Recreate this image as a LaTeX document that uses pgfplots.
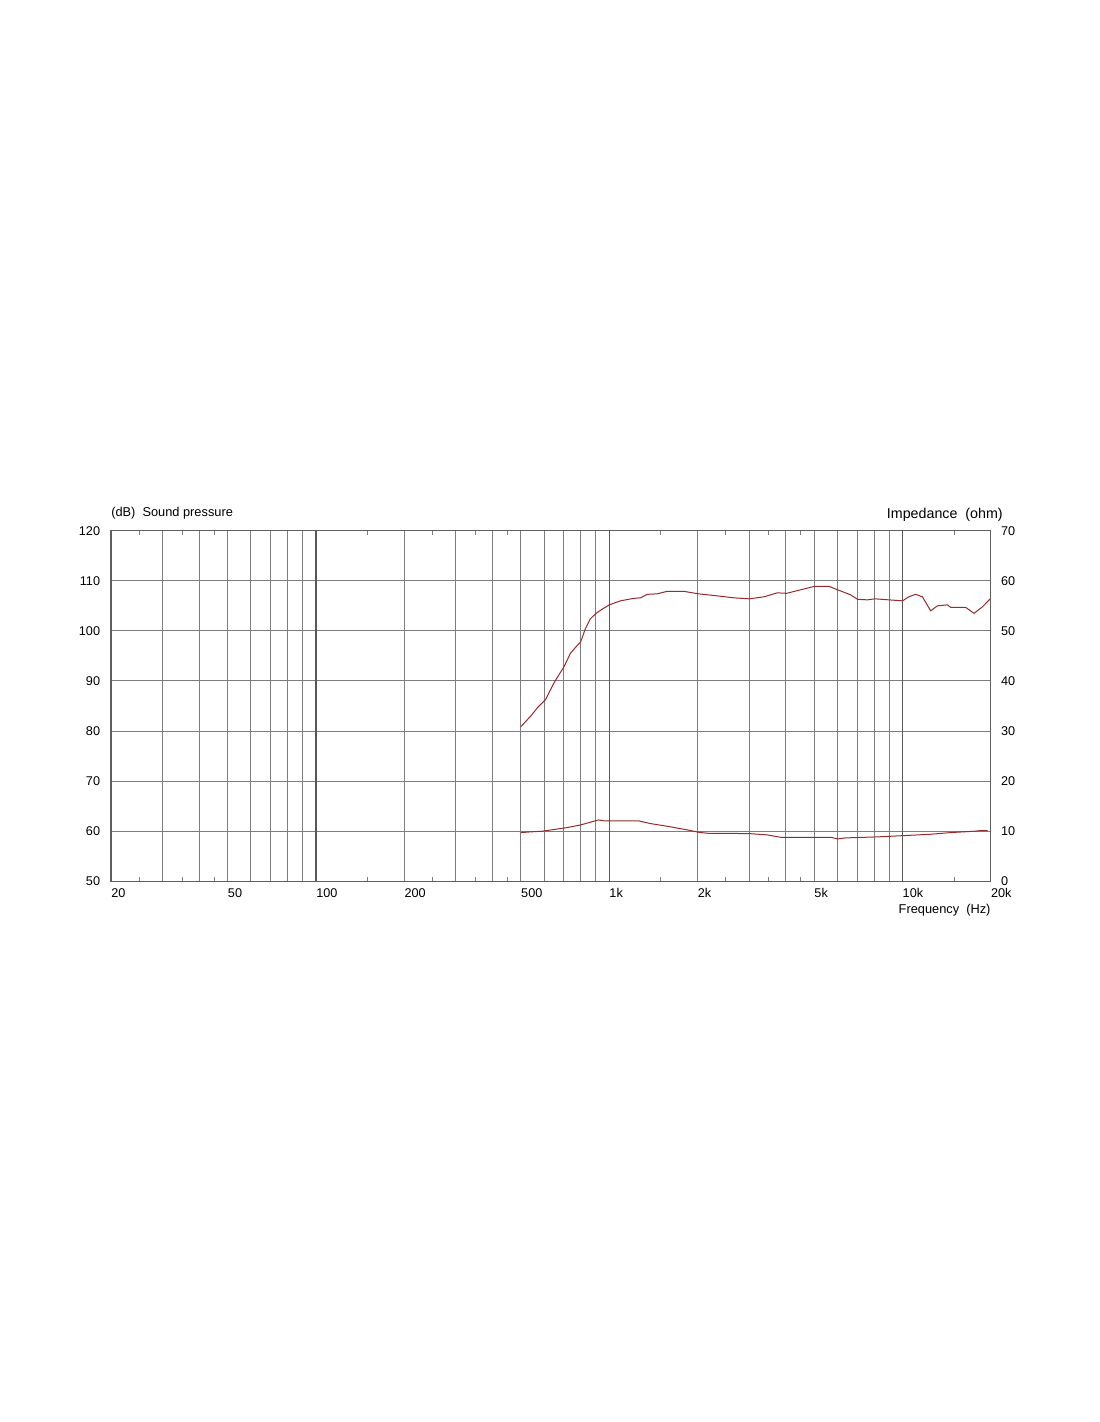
\documentclass[border=0pt]{standalone}
\usepackage{pgfplots}
\pgfplotsset{compat=1.18}
\usepackage{pgfplotstable}
\usepackage{fontspec}
\setmainfont{Liberation Sans}
\definecolor{curve}{RGB}{150,42,45}
\definecolor{gridc}{RGB}{125,125,125}
\definecolor{framec}{RGB}{95,95,95}
\definecolor{decc}{RGB}{88,88,88}
\pgfplotstableread{
f spl
500 80.9
540 83.0
570 84.7
607 86.3
646 89.5
702 92.9
737 95.5
770 96.8
799 97.8
830 100.5
862 102.4
902 103.5
950 104.4
1001 105.2
1092 106.0
1212 106.5
1280 106.6
1347 107.3
1457 107.4
1576 107.9
1796 107.9
2016 107.4
2336 107.0
2660 106.6
3003 106.4
3368 106.8
3742 107.6
4026 107.5
4493 108.2
5016 108.9
5612 108.9
6012 108.2
6655 107.2
7032 106.3
7592 106.2
8057 106.4
8972 106.2
10013 106.0
10500 106.8
11092 107.3
11696 106.8
12484 104.0
13158 105.0
14232 105.2
14608 104.7
16427 104.7
17542 103.5
18738 104.8
20000 106.5
}\spl
\pgfplotstableread{
f z
500 9.73
538 9.87
590 10.0
646 10.33
718 10.73
799 11.26
862 11.8
920 12.26
963 12.06
1262 12.06
1382 11.53
1576 11.0
1845 10.27
2016 9.8
2158 9.6
3003 9.53
3458 9.27
3838 8.8
5689 8.8
6012 8.47
6381 8.67
8211 8.87
10130 9.13
12484 9.4
14608 9.73
17542 10.0
18432 10.13
19500 10.13
}\imp
\begin{document}
\begin{tikzpicture}
\useasboundingbox (0,0) rectangle (825pt,1066.5pt);
\begin{axis}[
 at={(83.25pt,405.5pt)}, anchor=south west,
 scale only axis, width=659.8pt, height=262.95pt,
 xmode=log, xmin=20, xmax=20000, ymin=50, ymax=120,
 ytick={50,60,...,120},
 xtick={20,50,100,200,500,1000,2000,5000,10000,20000},
 xticklabels={20,50,100,200,500,1k,2k,5k,10k,20k},
 extra x ticks={30,40,60,70,80,90,300,400,600,700,800,900,3000,4000,6000,7000,8000,9000},
 extra x tick labels={},
 extra x tick style={grid=major},
 minor xtick={25,35,45,150,250,350,450,1500,2500,3500,4500,15000},
 grid=major,
 major grid style={gridc, line width=0.75pt},
 major tick length=0pt, minor tick length=3pt,
 minor tick style={gridc, line width=0.75pt},
 axis line style={framec, line width=0.9pt},
 yticklabel pos=left,
 clip=false,
 /pgf/number format/assume math mode=true,
 tick label style={font=\fontsize{9.5}{11}\selectfont},
 xticklabel style={anchor=north west, inner sep=0pt, yshift=-5pt},
 yticklabel style={anchor=east, inner sep=0pt, xshift=-8pt},
]
\draw[decc, line width=0.8pt] (axis cs:100,50) -- (axis cs:100,120);
\draw[decc, line width=0.8pt] (axis cs:1000,50) -- (axis cs:1000,120);
\draw[decc, line width=0.8pt] (axis cs:10000,50) -- (axis cs:10000,120);
\addplot[curve, line width=0.75pt] table[x=f,y=spl]{\spl};
\node[anchor=base west, inner sep=0pt, font=\fontsize{9.6}{11}\selectfont] at (rel axis cs:0,1) [yshift=11pt] {(dB)\ \ Sound pressure};
\node[anchor=base east, inner sep=0pt, font=\fontsize{9.6}{11}\selectfont] at (rel axis cs:1,0) [yshift=-24.5pt] {Frequency\ \ (Hz)};
\end{axis}
\begin{axis}[
 at={(83.25pt,405.5pt)}, anchor=south west,
 scale only axis, width=659.8pt, height=262.95pt,
 xmode=log, xmin=20, xmax=20000, ymin=0, ymax=70,
 xtick=\empty, ytick={0,10,...,70}, yticklabel pos=right,
 major tick length=0pt,
 axis line style={framec, line width=0.9pt},
 clip=false,
 /pgf/number format/assume math mode=true,
 tick label style={font=\fontsize{9.5}{11}\selectfont},
 yticklabel style={anchor=west, inner sep=0pt, xshift=7.5pt},
]
\addplot[curve, line width=0.75pt] table[x=f,y=z]{\imp};
\node[anchor=base east, inner sep=0pt, font=\fontsize{10.7}{12}\selectfont] at (rel axis cs:1,1) [xshift=9.2pt, yshift=8.8pt] {Impedance\ \ (ohm)};
\end{axis}
\end{tikzpicture}
\end{document}
